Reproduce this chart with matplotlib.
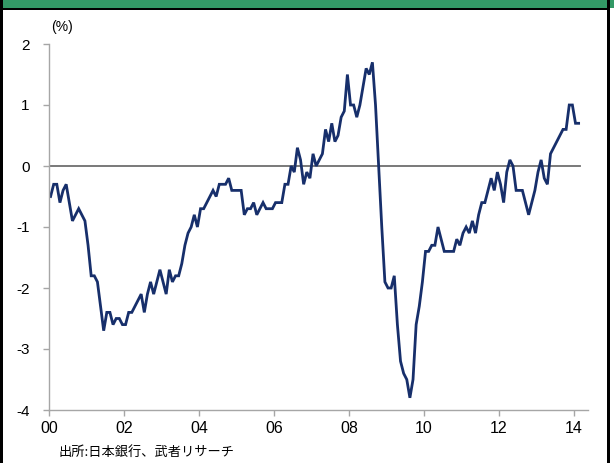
import numpy as np
import matplotlib
matplotlib.use('Agg')
import matplotlib.pyplot as plt
from matplotlib.patches import Rectangle

plt.rcParams['font.family'] = ['Liberation Sans', 'DejaVu Sans']

# 前年比 (%), 2000年1月から月次
vals = [
    -0.5, -0.3, -0.3, -0.6, -0.4, -0.3, -0.6, -0.9, -0.8, -0.7,
    -0.8, -0.9, -1.3, -1.8, -1.8, -1.9, -2.3, -2.7, -2.4, -2.4,
    -2.6, -2.5, -2.5, -2.6, -2.6, -2.4, -2.4, -2.3, -2.2, -2.1,
    -2.4, -2.1, -1.9, -2.1, -1.9, -1.7, -1.9, -2.1, -1.7, -1.9,
    -1.8, -1.8, -1.6, -1.3, -1.1, -1.0, -0.8, -1.0, -0.7, -0.7,
    -0.6, -0.5, -0.4, -0.5, -0.3, -0.3, -0.3, -0.2, -0.4, -0.4,
    -0.4, -0.4, -0.8, -0.7, -0.7, -0.6, -0.8, -0.7, -0.6, -0.7,
    -0.7, -0.7, -0.6, -0.6, -0.6, -0.3, -0.3, 0.0, -0.1, 0.3,
    0.1, -0.3, -0.1, -0.2, 0.2, 0.0, 0.1, 0.2, 0.6, 0.4,
    0.7, 0.4, 0.5, 0.8, 0.9, 1.5, 1.0, 1.0, 0.8, 1.0,
    1.3, 1.6, 1.5, 1.7, 1.0, 0.0, -1.0, -1.9, -2.0, -2.0,
    -1.8, -2.6, -3.2, -3.4, -3.5, -3.8, -3.5, -2.6, -2.3, -1.9,
    -1.4, -1.4, -1.3, -1.3, -1.0, -1.2, -1.4, -1.4, -1.4, -1.4,
    -1.2, -1.3, -1.1, -1.0, -1.1, -0.9, -1.1, -0.8, -0.6, -0.6,
    -0.4, -0.2, -0.4, -0.1, -0.3, -0.6, -0.1, 0.1, 0.0, -0.4,
    -0.4, -0.4, -0.6, -0.8, -0.6, -0.4, -0.1, 0.1, -0.2, -0.3,
    0.2, 0.3, 0.4, 0.5, 0.6, 0.6, 1.0, 1.0, 0.7, 0.7,
]
year_labels = ['00', '02', '04', '06', '08', '10', '12', '14']
y_ticks = [2, 1, 0, -1, -2, -3, -4]

fig = plt.figure(figsize=(6.14, 4.63), dpi=100)
ax = fig.add_axes([49 / 614, 1 - 410 / 463, (588 - 49) / 614, (410 - 44) / 463])

x = np.arange(len(vals)) + 0.5
ax.plot([0, len(vals)], [0, 0], color='#6e6e6e', lw=1.3, zorder=1)
ax.plot(x, vals, color='#172f6b', lw=2.0, zorder=2, solid_joinstyle='miter')

ax.set_xlim(0, 172.5)
ax.set_ylim(-4, 2)
ax.set_xticks(np.arange(len(year_labels)) * 24)
ax.set_xticklabels(year_labels, fontsize=11.5)
ax.set_yticks(y_ticks)
ax.set_yticklabels([str(v) for v in y_ticks], fontsize=11)

for s in ['top', 'right']:
    ax.spines[s].set_visible(False)
for s in ['left', 'bottom']:
    ax.spines[s].set_color('#a6a6a6')
    ax.spines[s].set_linewidth(1.0)
ax.tick_params(axis='both', colors='#a6a6a6', length=4, width=1.0, labelcolor='black')
ax.tick_params(axis='y', pad=10)
ax.tick_params(axis='x', pad=4)

fig.text(62 / 614, 1 - 27 / 463, '(%)', fontsize=10, ha='center', va='center')
fig.text(59 / 614, 1 - 452 / 463, '出所:日本銀行、武者リサーチ', fontsize=9.5,
         ha='left', va='center', family=['Noto Sans CJK JP', 'DejaVu Sans'])

# 枠と見出し帯
fig.add_artist(Rectangle((0, 1 - 8 / 463), 1, 8 / 463, transform=fig.transFigure,
                         facecolor='#339966', edgecolor='none'))
fig.add_artist(Rectangle((0, 1 - 10 / 463), 609 / 614, 2 / 463, transform=fig.transFigure,
                         facecolor='black', edgecolor='none'))
fig.add_artist(Rectangle((0, 0), 3 / 614, 1, transform=fig.transFigure,
                         facecolor='black', edgecolor='none'))
fig.add_artist(Rectangle((607 / 614, 0), 3 / 614, 1, transform=fig.transFigure,
                         facecolor='black', edgecolor='none'))

fig.savefig('out.png', dpi=100)
